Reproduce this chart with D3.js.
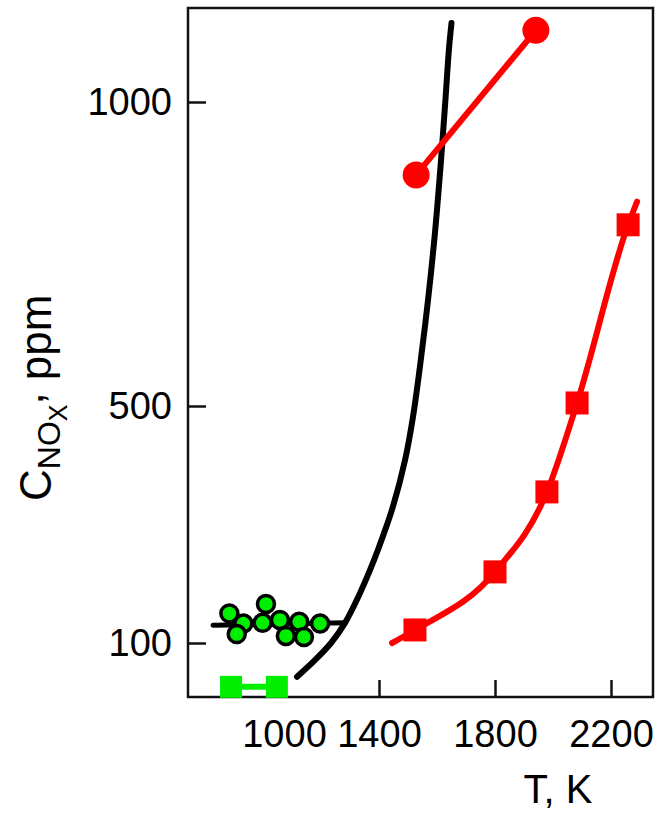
<!DOCTYPE html>
<html>
<head>
<meta charset="utf-8">
<script src="https://cdn.jsdelivr.net/npm/d3@7/dist/d3.min.js"></script>
<style>
  html, body { margin: 0; padding: 0; background: #fff; }
  svg { display: block; }
  text { font-family: "Liberation Sans", Arial, Helvetica, sans-serif; fill: #000; }
</style>
</head>
<body>
<svg id="chart" width="666" height="813"></svg>
<script>
// ---------- data ----------
const xTicks = [1000, 1400, 1800, 2200];
const yTicks = [100, 500, 1000];

// black model curve
const tModel = [1055, 1130, 1198, 1257, 1307, 1362, 1400, 1448, 1490, 1517, 1541, 1569, 1593, 1612, 1629, 1641, 1650];
const cModel = [43, 71, 100, 134, 173, 223, 262, 330, 409, 481, 564, 674, 785, 893, 1003, 1086, 1130];

// black fit line through green points
const tFit = [701, 1257];
const cFit = [130, 134];

// green circles
const tGreen = [770, 829, 801, 924, 910, 983, 1008, 1064, 1084, 1152];
const cGreen = [150, 133, 115, 166, 134, 139, 112, 136, 110, 133];

// green squares
const tGreenSq = [777, 970];
const cGreenSq = [26, 26];

// red circles
const tRedCirc = [1528, 1941];
const cRedCirc = [880, 1118];

// red squares and their curve
const tRedSq = [1524, 1800, 1979, 2083, 2259];
const cRedSq = [122, 220, 355, 505, 798];
const tRedLine = [1445, 1524, 1800, 1979, 2083, 2259, 2290];
const cRedLine = [100, 122, 220, 355, 505, 798, 836];

// ---------- layout ----------
const svg = d3.select("#chart");
const mL = 188, mR = 653, mT = 8, mB = 697;

svg.append("rect").attr("width", 666).attr("height", 813).attr("fill", "#fff");

const x = d3.scaleLinear().domain(xTicks).range([284, 379, 495, 611]);
const y = d3.scaleLinear().domain(yTicks).range([643, 406, 102]);

const zip = (a, b) => a.map((v, i) => [v, b[i]]);

// frame
svg.append("rect")
  .attr("x", mL).attr("y", mT)
  .attr("width", mR - mL).attr("height", mB - mT)
  .attr("fill", "none").attr("stroke", "#111").attr("stroke-width", 2.5);

// axes
const gx = svg.append("g").attr("transform", `translate(0,${mB})`)
  .call(d3.axisBottom(x).tickValues(xTicks).tickFormat(d3.format("d"))
        .tickSizeInner(-17).tickSizeOuter(0).tickPadding(23));
const gy = svg.append("g").attr("transform", `translate(${mL},0)`)
  .call(d3.axisLeft(y).tickValues(yTicks).tickFormat(d3.format("d"))
        .tickSizeInner(-18).tickSizeOuter(0).tickPadding(16));
[gx, gy].forEach(g => {
  g.select(".domain").remove();
  g.selectAll(".tick line").attr("stroke", "#111").attr("stroke-width", 2.5);
  g.selectAll(".tick text").attr("font-size", 38).attr("fill", "#000")
    .style("font-family", '"Liberation Sans", Arial, sans-serif');
});

// axis titles
svg.append("text")
  .attr("x", 558).attr("y", 803)
  .attr("text-anchor", "middle").attr("font-size", 40)
  .text("T, K");

const yt = svg.append("text")
  .attr("transform", "translate(51,501) rotate(-90)")
  .attr("text-anchor", "start").attr("font-size", 44);
yt.append("tspan").text("C");
yt.append("tspan").attr("font-size", 32).attr("dy", 9).text("NO");
yt.append("tspan").attr("font-size", 25).attr("dy", 7).text("X");
yt.append("tspan").attr("dy", -24).text(",");
yt.append("tspan").attr("dx", 12).attr("dy", 8).text("ppm");

const plot = svg.append("g");

const line = d3.line().x(d => x(d[0])).y(d => y(d[1]));

// black fit line (behind green circles)
plot.append("path")
  .datum(zip(tFit, cFit))
  .attr("d", line)
  .attr("fill", "none").attr("stroke", "#000").attr("stroke-width", 5)
  .attr("stroke-linecap", "round");

// black model curve
plot.append("path")
  .datum(zip(tModel, cModel))
  .attr("d", d3.line().x(d => x(d[0])).y(d => y(d[1])).curve(d3.curveCatmullRom))
  .attr("fill", "none").attr("stroke", "#000").attr("stroke-width", 6)
  .attr("stroke-linecap", "round");

// green squares with connector
const gsq = zip(tGreenSq, cGreenSq);
plot.append("path")
  .datum(gsq)
  .attr("d", line)
  .attr("fill", "none").attr("stroke", "#00ee00").attr("stroke-width", 6);
plot.selectAll("rect.gsq").data(gsq).join("rect")
  .attr("class", "gsq")
  .attr("x", d => x(d[0]) - 11).attr("y", d => y(d[1]) - 11)
  .attr("width", 22).attr("height", 22)
  .attr("fill", "#00ee00");

// green circles
plot.selectAll("circle.g").data(zip(tGreen, cGreen)).join("circle")
  .attr("class", "g")
  .attr("cx", d => x(d[0])).attr("cy", d => y(d[1]))
  .attr("r", 8.5)
  .attr("fill", "#00ee00").attr("stroke", "#000").attr("stroke-width", 3.5);

// red circle series
const rc = zip(tRedCirc, cRedCirc);
plot.append("path")
  .datum(rc)
  .attr("d", line)
  .attr("fill", "none").attr("stroke", "#ff0000").attr("stroke-width", 6);
plot.selectAll("circle.r").data(rc).join("circle")
  .attr("class", "r")
  .attr("cx", d => x(d[0])).attr("cy", d => y(d[1]))
  .attr("r", 13.5).attr("fill", "#ff0000");

// red square series
plot.append("path")
  .datum(zip(tRedLine, cRedLine))
  .attr("d", d3.line().x(d => x(d[0])).y(d => y(d[1])).curve(d3.curveMonotoneX))
  .attr("fill", "none").attr("stroke", "#ff0000").attr("stroke-width", 6)
  .attr("stroke-linecap", "round");
plot.selectAll("rect.rsq").data(zip(tRedSq, cRedSq)).join("rect")
  .attr("class", "rsq")
  .attr("x", d => x(d[0]) - 11.5).attr("y", d => y(d[1]) - 11.5)
  .attr("width", 23).attr("height", 23)
  .attr("fill", "#ff0000");
</script>
</body>
</html>
